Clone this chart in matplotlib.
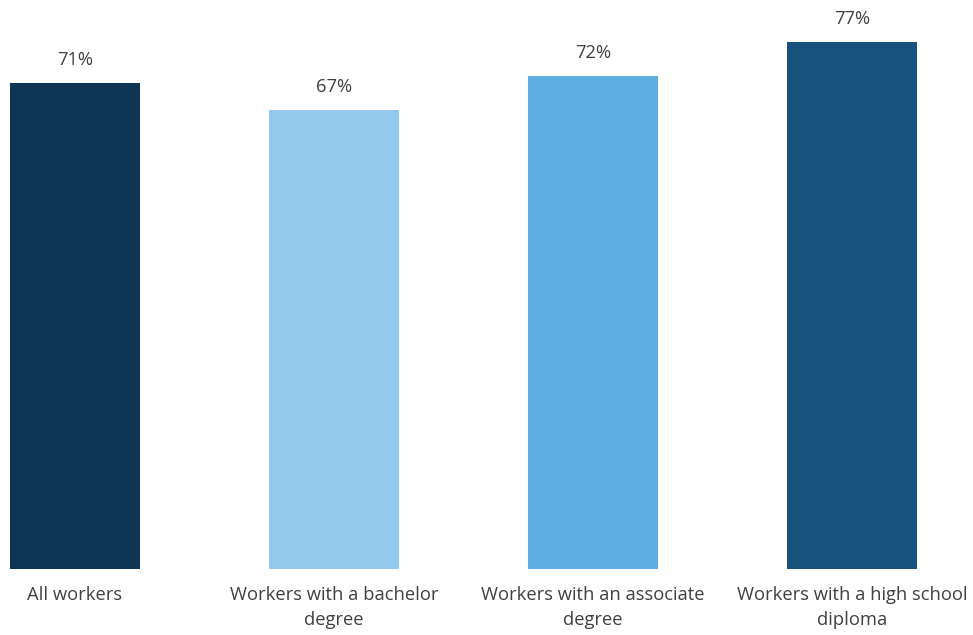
import matplotlib
matplotlib.use("Agg")
import matplotlib.pyplot as plt

categories = ["All workers", "Workers with a bachelor\ndegree",
              "Workers with an associate\ndegree", "Workers with a high school\ndiploma"]
values = [71, 67, 72, 77]
labels = ["71%", "67%", "72%", "77%"]
colors = ["#0f3554", "#95c8ed", "#5eaee4", "#17527d"]

plt.rcParams['font.family'] = ['Open Sans', 'DejaVu Sans']
W, H = 973, 635
fig = plt.figure(figsize=(W/100, H/100), dpi=100)
base_px = 569
ax = fig.add_axes([0, (H - base_px)/H, 1, base_px/H])
ppu = 259.0
ax.set_xlim(-75/ppu, (W - 75)/ppu)
ppct = 486/71
ax.set_ylim(0, base_px/ppct)
x = list(range(len(values)))
ax.bar(x, values, width=130/ppu, color=colors)
for xi, v, l in zip(x, values, labels):
    ax.annotate(l, (xi, v), xytext=(0, 14), textcoords='offset pixels',
                ha='center', va='bottom', fontsize=13.2, color='#404040')
ax.set_xticks(x)
ax.set_xticklabels(categories, fontsize=13.2, color='#404040', linespacing=1.55)
ax.tick_params(axis='x', length=0, pad=12)
ax.set_yticks([])
for s in ax.spines.values():
    s.set_visible(False)
fig.savefig("out.png", dpi=100)
